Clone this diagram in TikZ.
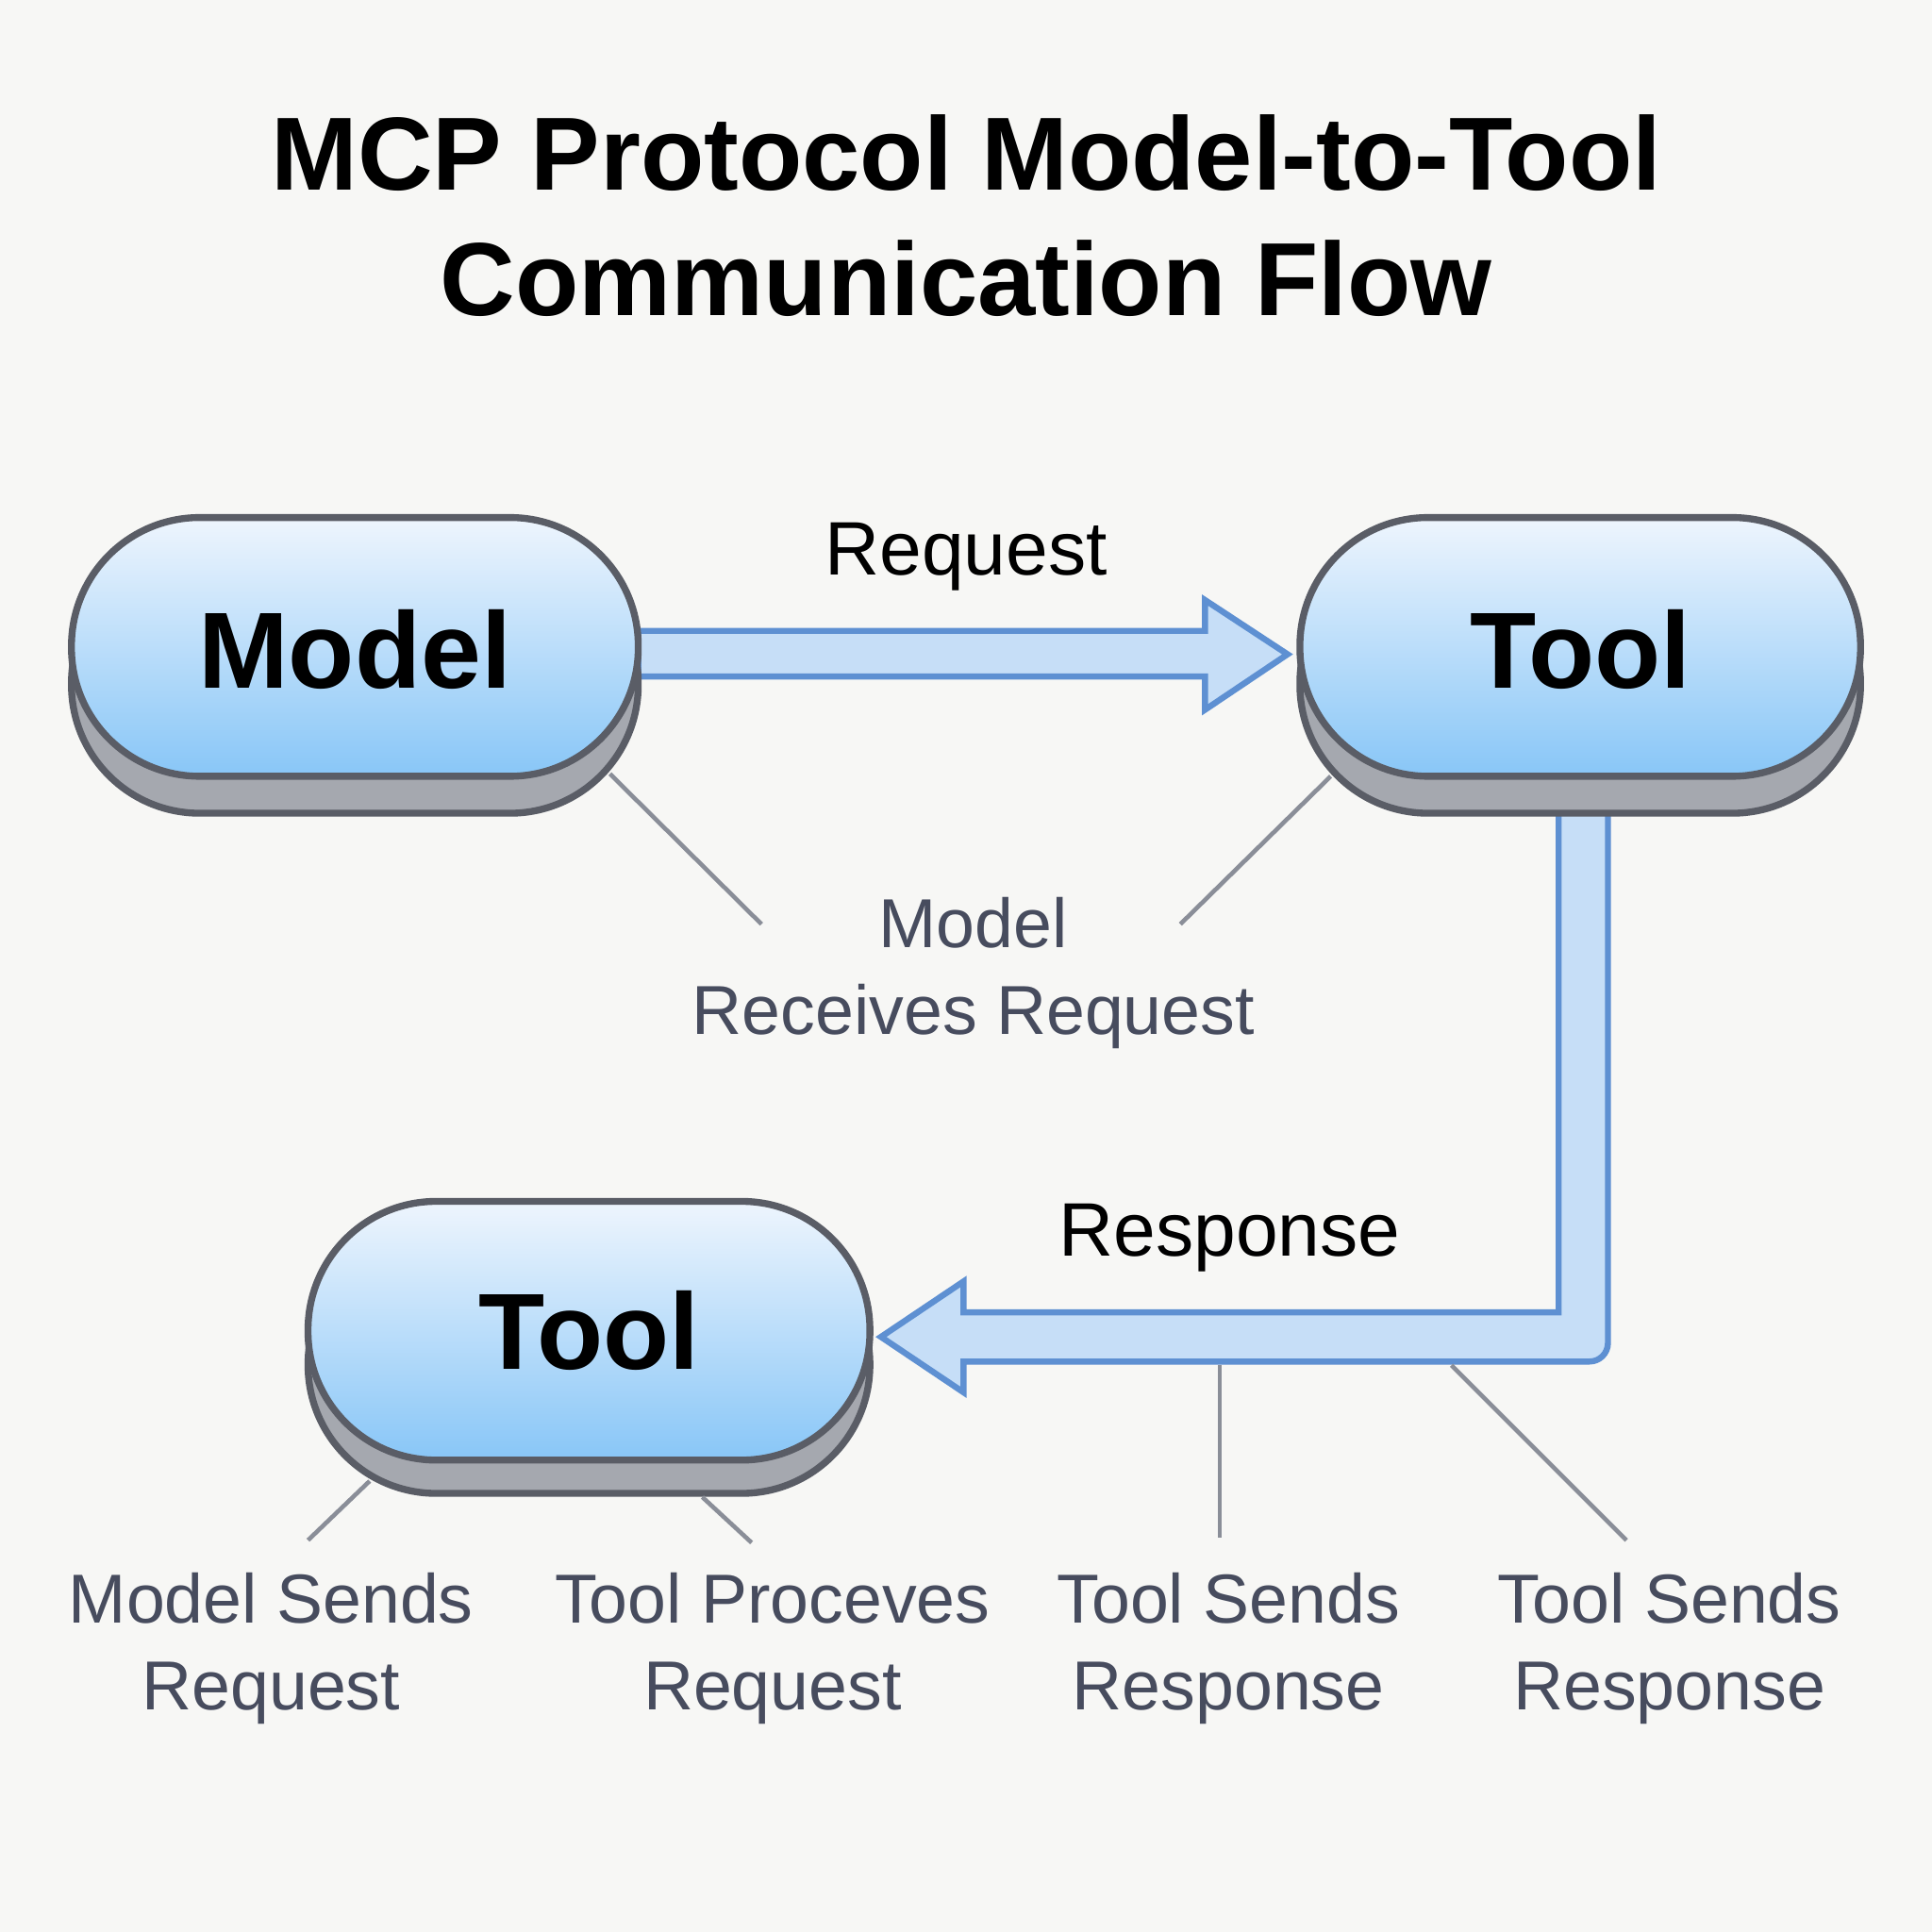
\documentclass[tikz,border=0pt]{standalone}
\usepackage{fontspec}
\setmainfont{Liberation Sans}
\begin{document}
\begin{tikzpicture}[x=0.01cm,y=-0.01cm,
  pillshadow/.style={fill=shadowgray,draw=edgegray,line width=1.6pt,rounded corners=1.04cm},
  pilltop/.style={top color=pilltopc,bottom color=pillbotc,draw=edgegray,line width=1.6pt,rounded corners=1.04cm},
  arrowbody/.style={fill=arrowfill,draw=arrowedge,line width=1.4pt,line join=miter},
  lead/.style={draw=leadgray,line width=1pt},
  nodetxt/.style={font=\fontsize{25}{30}\selectfont\bfseries,text=black},
  gtxt/.style={font=\fontsize{16}{20}\selectfont,text=labgray,align=center}]
\definecolor{bg}{HTML}{F7F7F5}
\definecolor{shadowgray}{HTML}{A5A8AF}
\definecolor{edgegray}{HTML}{5A5D66}
\definecolor{pilltopc}{HTML}{EEF5FD}
\definecolor{pillbotc}{HTML}{88C6F7}
\definecolor{arrowfill}{HTML}{C6DEF7}
\definecolor{arrowedge}{HTML}{5E90D2}
\definecolor{leadgray}{HTML}{8A8E98}
\definecolor{labgray}{HTML}{474C5E}
\fill[bg] (0,0) rectangle (1568,1568);
\useasboundingbox (0,0) rectangle (1568,1568);
% title
\node[font=\fontsize{24}{29}\selectfont\bfseries,align=center] (title) at (784,175) {MCP Protocol Model-to-Tool\\Communication Flow};
% arrows
\draw[arrowbody] (518,512) -- (978,512) -- (978,487) -- (1045,531) -- (978,576) -- (978,549) -- (518,549) -- cycle;
\draw[arrowbody] (1265,655) -- (1265,1065) -- (782,1065) -- (782,1040) -- (715,1085) -- (782,1130) -- (782,1105) -- (1290,1105) to[out=0,in=-90] (1305,1090) -- (1305,655) -- cycle;
% pills
\draw[pillshadow] (58,450) rectangle (518,660);
\draw[pilltop] (58,420) rectangle (518,630);
\node[nodetxt] (model) at (288,527) {Model};
\draw[pillshadow] (1055,450) rectangle (1510,660);
\draw[pilltop] (1055,420) rectangle (1510,630);
\node[nodetxt] (tool1) at (1283,527) {Tool};
\draw[pillshadow] (250,1003) rectangle (706,1212);
\draw[pilltop] (250,975) rectangle (706,1185);
\node[nodetxt] (tool2) at (478,1080) {Tool};
% labels
\node[font=\fontsize{17.5}{21}\selectfont] (req) at (784,452) {Request};
\node[font=\fontsize{17.5}{21}\selectfont] (resp) at (998,1005) {Response};
\node[gtxt] (mrr) at (790,790) {Model\\Receives Request};
\draw[lead] (495,628) -- (618,750);
\draw[lead] (1080,630) -- (958,750);
\draw[lead] (300,1202) -- (250,1250);
\draw[lead] (570,1215) -- (610,1252);
\draw[lead] (990,1108) -- (990,1248);
\draw[lead] (1178,1108) -- (1320,1250);
\node[gtxt] (l1) at (220,1338) {Model Sends\\Request};
\node[gtxt] (l2) at (627,1338) {Tool Proceves\\Request};
\node[gtxt] (l3) at (997,1338) {Tool Sends\\Response};
\node[gtxt] (l4) at (1355,1338) {Tool Sends\\Response};
\end{tikzpicture}
\end{document}
